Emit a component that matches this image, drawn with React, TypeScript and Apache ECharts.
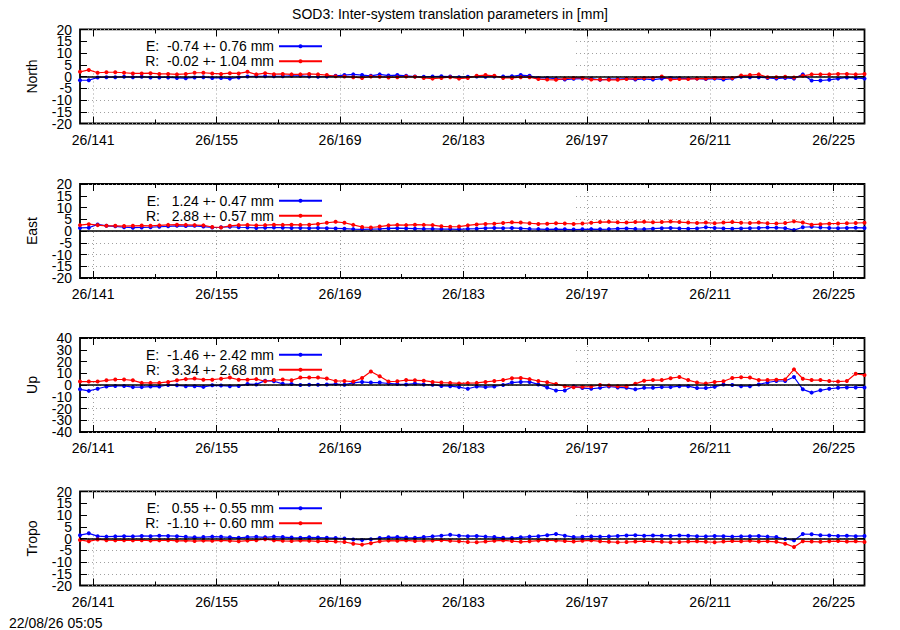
import React, { useEffect, useRef } from "react";
import * as echarts from "echarts";

const FIRST_DAY = 139.5;
const LAST_DAY = 228.5;
const MAJOR_DAYS = [141, 155, 169, 183, 197, 211, 225];
const MINOR_DAYS = [148, 162, 176, 190, 204, 218];
const YEAR_PREFIX = "26/";

const TITLE = "SOD3: Inter-system translation parameters in [mm]";
const STAMP = "22/08/26 05:05";

const PANEL_NAMES = ["North", "East", "Up", "Tropo"];
const PANEL_LIMITS = [20, 20, 40, 20];
const PANEL_STEPS = [5, 5, 10, 5];
// y tick labels, split in two alternating sets so neighbouring labels may touch
const Y_LABELS_A = [
  [-20, -10, 0, 10, 20],
  [-20, -10, 0, 10, 20],
  [-40, -20, 0, 20, 40],
  [-20, -10, 0, 10, 20],
];
const Y_LABELS_B = [
  [-15, -5, 5, 15],
  [-15, -5, 5, 15],
  [-30, -10, 10, 30],
  [-15, -5, 5, 15],
];
const E_LABELS = [
  "E:  -0.74 +- 0.76 mm",
  "E:   1.24 +- 0.47 mm",
  "E:  -1.46 +- 2.42 mm",
  "E:   0.55 +- 0.55 mm",
];
const R_LABELS = [
  "R:  -0.02 +- 1.04 mm",
  "R:   2.88 +- 0.57 mm",
  "R:   3.34 +- 2.68 mm",
  "R:  -1.10 +- 0.60 mm",
];

const NORTH_E = [
  -1.6, -1.6, -0.4, -0.3, -0.3, -0.1, -0.3, -0.1, -0.4, -0.4,
  -0.4, -0.6, -0.7, -0.4, -0.3, -0.6, -0.6, -0.9, -0.4, 0.0,
  0.1, 0.1, 0.1, 0.1, 0.3, 0.3, 0.0, -0.1, 0.0, 0.3,
  0.6, 0.9, 0.6, 0.3, 0.9, 0.4, 0.6, 0.3, 0.0, -0.1,
  0.0, 0.1, 0.0, -0.3, -0.1, 0.0, -0.1, 0.0, 0.0, 0.1,
  0.6, 0.3, -0.6, -0.6, -0.9, -1.3, -1.0, -0.9, -0.9, -1.4,
  -1.1, -1.1, -0.9, -1.3, -1.0, -1.3, -0.9, -0.6, -0.7, -0.9,
  -0.9, -1.1, -0.9, -1.3, -0.9, -0.1, -0.3, -0.3, -0.6, -0.9,
  -0.6, -0.9, 0.9, -1.7, -1.7, -1.4, -0.9, -0.4, -0.6, -0.9,
];
const NORTH_R = [
  2.0, 2.8, 1.6, 1.8, 1.8, 1.6, 1.3, 1.3, 1.4, 1.1,
  1.1, 0.9, 1.1, 1.6, 1.6, 1.3, 1.1, 1.4, 1.3, 2.0,
  0.9, 1.4, 1.0, 1.1, 0.9, 0.9, 1.1, 0.9, 0.6, 0.1,
  0.0, -0.3, -0.6, 0.0, -0.1, -0.4, -0.3, 0.0, -0.1, -0.6,
  -0.9, -0.6, -0.3, -0.9, -0.6, 0.3, 0.6, 0.3, -0.6, -0.6,
  -0.3, -0.3, -1.1, -1.3, -1.4, -0.9, -0.6, -0.6, -1.3, -1.3,
  -1.4, -1.4, -1.1, -0.9, -0.6, -0.6, 0.0, -1.3, -1.1, -1.1,
  -0.9, -0.9, -0.6, -0.6, -0.6, 0.4, 0.6, 0.9, -0.3, -0.3,
  -0.1, -0.4, 0.3, 0.9, 0.9, 0.9, 1.1, 1.1, 0.9, 1.1,
];
const EAST_E = [
  1.3, 1.4, 2.8, 2.2, 2.0, 1.6, 1.4, 1.5, 1.6, 1.8,
  2.0, 2.2, 2.1, 2.2, 1.9, 1.5, 1.6, 1.8, 1.6, 1.5,
  1.3, 1.4, 1.5, 1.4, 1.3, 1.3, 1.2, 1.3, 1.2, 1.1,
  1.0, 0.8, 0.7, 0.8, 0.9, 1.1, 1.2, 1.1, 1.0, 0.9,
  0.9, 0.8, 0.8, 0.7, 0.9, 1.0, 1.2, 1.3, 1.2, 1.3,
  1.1, 0.9, 0.8, 0.7, 0.8, 0.7, 0.6, 0.7, 0.8, 0.7,
  0.8, 1.0, 1.1, 0.9, 0.8, 1.0, 1.2, 1.3, 1.1, 1.0,
  1.1, 1.6, 1.3, 1.1, 1.0, 1.1, 1.2, 1.3, 1.5, 1.4,
  1.2, 0.4, 1.6, 1.8, 1.5, 1.3, 1.2, 1.3, 1.4, 1.3,
];
const EAST_R = [
  2.5, 2.9, 2.5, 2.2, 2.2, 2.1, 2.2, 2.3, 2.2, 2.4,
  2.6, 2.7, 2.6, 2.5, 2.4, 1.7, 1.5, 2.2, 2.5, 2.6,
  2.4, 2.5, 2.7, 2.6, 2.7, 2.6, 2.7, 3.0, 3.5, 3.9,
  3.5, 2.6, 1.7, 1.5, 1.9, 2.4, 2.6, 2.5, 2.7, 2.6,
  2.5, 2.0, 1.8, 1.9, 2.4, 2.8, 3.0, 3.1, 3.4, 3.7,
  3.6, 3.3, 3.0, 3.1, 3.3, 3.2, 3.0, 3.2, 3.5, 3.8,
  3.9, 3.7, 3.6, 3.8, 3.9, 3.7, 3.8, 4.0, 3.8, 3.6,
  3.4, 3.6, 3.3, 3.6, 3.8, 3.5, 3.4, 3.6, 3.3, 3.2,
  3.4, 4.1, 3.6, 2.7, 2.9, 3.1, 3.2, 3.3, 3.4, 3.5,
];
const UP_E = [
  -3.7, -5.0, -3.2, -1.3, -0.8, -0.8, -1.8, -1.8, -1.3, -1.3,
  0.0, -0.3, -1.0, -1.0, -1.6, -0.3, -0.5, -1.0, -0.8, 0.8,
  0.5, 3.7, 3.2, 1.0, 0.8, 0.0, 0.3, 0.3, 0.5, 0.8,
  0.3, 1.8, 2.6, 2.1, 2.1, 1.3, 0.8, 0.5, 1.3, 0.5,
  0.3, -0.8, -1.0, -1.8, -3.2, -1.3, -1.8, -1.3, 0.0, 2.1,
  2.6, 2.6, 0.5, -2.1, -4.7, -4.7, -1.0, -2.6, -3.2, -2.4,
  -1.3, -2.1, -2.4, -3.7, -2.4, -2.4, -1.8, -1.8, -1.0, -1.0,
  -2.6, -2.6, -1.6, 0.5, 0.0, -1.0, -1.0, 0.5, 2.1, 3.4,
  3.4, 6.8, -3.7, -6.5, -4.5, -3.2, -2.4, -2.1, -2.1, -2.1,
];
const UP_R = [
  2.9, 2.9, 2.9, 4.0, 4.7, 4.7, 4.0, 1.8, 1.8, 1.8,
  2.6, 4.0, 5.0, 5.5, 4.5, 4.5, 5.3, 6.3, 4.5, 4.5,
  5.0, 3.2, 4.2, 4.7, 4.0, 6.3, 6.3, 6.3, 5.5, 3.4,
  3.4, 2.9, 6.0, 11.5, 7.4, 2.9, 3.2, 4.2, 4.0, 3.7,
  2.6, 2.1, 1.8, 1.3, 1.6, 1.8, 2.6, 3.4, 4.2, 5.8,
  6.0, 5.0, 3.4, 2.4, 0.8, -1.0, -2.0, -1.6, -1.3, 0.0,
  -0.5, -1.0, -1.0, 1.0, 3.7, 4.2, 4.2, 5.8, 6.8, 4.2,
  2.1, 1.3, 2.6, 3.2, 6.0, 6.6, 6.3, 4.2, 4.2, 4.5,
  4.7, 13.3, 5.3, 4.2, 4.2, 3.4, 2.9, 3.4, 9.5, 8.5,
];
const TROPO_E = [
  1.4, 2.2, 1.0, 0.8, 0.9, 1.0, 0.9, 1.1, 1.0, 1.2,
  1.1, 1.0, 0.7, 0.5, 0.6, 0.8, 0.7, 0.5, 0.3, 0.6,
  0.7, 0.5, 0.8, 0.6, 0.4, 0.3, 0.5, 0.4, 0.3, 0.2,
  0.0, -0.4, -0.6, -0.3, 0.2, 0.5, 0.6, 0.4, 0.3, 0.6,
  0.9, 1.2, 1.6, 1.2, 1.0, 1.1, 0.8, 0.6, 0.3, 0.2,
  0.5, 0.8, 1.0, 1.4, 1.9, 1.2, 0.6, 0.7, 0.9, 0.8,
  0.9, 1.1, 1.3, 1.4, 1.2, 1.3, 1.2, 1.1, 1.3, 1.2,
  1.0, 0.9, 1.1, 1.0, 0.8, 0.9, 1.0, 1.1, 0.8, 0.6,
  -0.2, -0.8, 1.9, 1.8, 1.4, 1.3, 1.1, 1.2, 1.0, 1.1,
];
const TROPO_R = [
  -0.6, -1.2, -0.4, -0.7, -0.8, -0.7, -0.8, -0.7, -0.9, -0.8,
  -0.7, -1.0, -0.9, -1.1, -0.9, -1.0, -0.8, -1.0, -1.2, -0.9,
  -0.7, -0.3, -0.8, -1.0, -1.1, -0.9, -1.0, -1.2, -1.1, -1.3,
  -1.5, -2.2, -2.6, -2.0, -1.2, -0.9, -1.0, -0.8, -1.1, -1.0,
  -0.9, -0.7, -1.0, -1.2, -1.5, -1.6, -1.3, -1.0, -0.8, -1.1,
  -1.4, -1.2, -0.9, -0.7, -0.9, -1.1, -1.3, -1.0, -0.8, -1.2,
  -1.4, -1.6, -1.5, -1.3, -1.1, -1.2, -1.4, -1.6, -1.5, -1.3,
  -1.2, -1.4, -1.6, -1.3, -1.1, -1.2, -1.0, -1.3, -1.2, -1.4,
  -2.2, -3.6, -1.2, -1.3, -1.4, -1.2, -1.1, -1.3, -1.2, -1.5,
];

const E_SERIES = [NORTH_E, EAST_E, UP_E, TROPO_E];
const R_SERIES = [NORTH_R, EAST_R, UP_R, TROPO_R];

// layout (pixels)
const PANEL_TOPS = [29.5, 184, 338, 491.5];
const PANEL_H = 94;
const PLOT_LEFT = 80;
const PLOT_W = 784.5;
const FONT = '"Liberation Sans", Arial, Helvetica, sans-serif';
const BLUE = "#0000ff";
const RED = "#ff0000";

const fixSpaces = (s: string) => s.replace(/  /g, " \u00a0");

function buildOption() {
  const grid: any[] = [];
  const xAxis: any[] = [];
  const yAxis: any[] = [];
  const series: any[] = [];
  const legend: any[] = [];
  const graphic: any[] = [];

  PANEL_NAMES.forEach((name, k) => {
    const top = PANEL_TOPS[k];
    grid.push({
      left: PLOT_LEFT,
      top,
      width: PLOT_W,
      height: PANEL_H,
      show: true,
      borderColor: "#000",
      borderWidth: 1.8,
      backgroundColor: "transparent",
      outerBoundsMode: "none",
      containLabel: false,
    });
    const xBase = {
      type: "value",
      gridIndex: k,
      min: FIRST_DAY,
      max: LAST_DAY,
      axisLine: { show: false, onZero: false },
      splitLine: { show: false },
      axisLabel: { show: false },
    };
    const tick = (vals: number[], len: number) => ({
      show: true,
      inside: true,
      length: len,
      customValues: vals,
      lineStyle: { color: "#000", width: 1 },
    });
    // bottom: labels, major ticks, vertical grid
    xAxis.push({
      ...xBase,
      position: "bottom",
      z: 0,
      axisTick: tick(MAJOR_DAYS, 7),
      axisLabel: {
        show: true,
        customValues: MAJOR_DAYS,
        formatter: (v: number) => YEAR_PREFIX + Math.round(v),
        color: "#000",
        fontSize: 14,
        fontFamily: FONT,
        margin: 9,
      },
      splitLine: {
        show: true,
        lineStyle: { color: "#a0a0a0", width: 1, type: [1, 3] },
      },
    });
    xAxis.push({ ...xBase, position: "bottom", z: 3, axisTick: tick(MINOR_DAYS, 4) });
    xAxis.push({ ...xBase, position: "top", z: 3, axisTick: tick(MAJOR_DAYS, 7) });
    xAxis.push({ ...xBase, position: "top", z: 3, axisTick: tick(MINOR_DAYS, 4) });

    const lim = PANEL_LIMITS[k];
    const yBase = {
      type: "value",
      gridIndex: k,
      min: -lim,
      max: lim,
      interval: PANEL_STEPS[k],
      axisLine: { show: false, onZero: false },
      splitLine: { show: false },
      axisLabel: { show: false },
      axisTick: { show: false },
    };
    const yLabel = (vals: number[]) => ({
      show: true,
      customValues: vals,
      showMinLabel: true,
      showMaxLabel: true,
      hideOverlap: false,
      color: "#000",
      fontSize: 14,
      lineHeight: 12,
      fontFamily: FONT,
      margin: 8,
    });
    // grid lines
    yAxis.push({
      ...yBase,
      position: "left",
      z: 0,
      splitLine: {
        show: true,
        lineStyle: { color: "#a0a0a0", width: 1, type: [1, 3] },
      },
    });
    // ticks, first label set and the name
    yAxis.push({
      ...yBase,
      position: "left",
      z: 3,
      name,
      nameLocation: "middle",
      nameRotate: 90,
      nameGap: 41,
      nameTextStyle: { color: "#000", fontSize: 14, fontFamily: FONT },
      axisTick: {
        show: true,
        inside: true,
        length: 7,
        lineStyle: { color: "#000", width: 1 },
      },
      axisLabel: yLabel(Y_LABELS_A[k]),
    });
    // second label set
    yAxis.push({
      ...yBase,
      position: "left",
      z: 3,
      axisLabel: yLabel(Y_LABELS_B[k]),
    });
    // right mirror ticks
    yAxis.push({
      ...yBase,
      position: "right",
      z: 3,
      axisTick: {
        show: true,
        inside: true,
        length: 7,
        lineStyle: { color: "#000", width: 1 },
      },
    });

    const eName = fixSpaces(E_LABELS[k]);
    const rName = fixSpaces(R_LABELS[k]);
    const mk = (nm: string, vals: number[], color: string, withZero: boolean) => ({
      type: "line",
      name: nm,
      xAxisIndex: 4 * k,
      yAxisIndex: 4 * k,
      data: vals.map((v, i) => [FIRST_DAY + i, v]),
      symbol: "circle",
      symbolSize: 4,
      showSymbol: true,
      clip: false,
      z: 2,
      silent: true,
      lineStyle: { color, width: 1.2 },
      itemStyle: { color },
      emphasis: { disabled: true },
      markLine: withZero
        ? {
            silent: true,
            symbol: "none",
            label: { show: false },
            lineStyle: { color: "#000", type: "solid", width: 1.6 },
            data: [{ yAxis: 0 }],
          }
        : undefined,
    });
    series.push(mk(eName, E_SERIES[k], BLUE, true));
    series.push(mk(rName, R_SERIES[k], RED, false));

    legend.push({
      data: [eName, rName],
      orient: "vertical",
      align: "right",
      right: 900 - 323,
      top: top + 9.2,
      padding: 0,
      itemWidth: 43,
      itemHeight: 5,
      itemGap: 0,
      selectedMode: false,
      textStyle: { color: "#000", fontSize: 14, fontFamily: FONT, lineHeight: 15 },
    });

    graphic.push({
      type: "rect",
      silent: true,
      z: 1,
      shape: { x: PLOT_LEFT + 1, y: top + 1, width: 492, height: 40 },
      style: { fill: "#ffffff" },
    });
  });

  graphic.push({
    type: "text",
    z: 5,
    silent: true,
    x: 450,
    y: 14,
    style: {
      text: TITLE,
      fill: "#000",
      font: `14px ${FONT}`,
      align: "center",
      verticalAlign: "middle",
    },
  });
  graphic.push({
    type: "text",
    z: 5,
    silent: true,
    x: 9,
    y: 623,
    style: {
      text: STAMP,
      fill: "#000",
      font: `14px ${FONT}`,
      align: "left",
      verticalAlign: "middle",
    },
  });

  return {
    animation: false,
    backgroundColor: "#ffffff",
    textStyle: { fontFamily: FONT, fontSize: 14, color: "#000" },
    grid,
    xAxis,
    yAxis,
    series,
    legend,
    graphic,
  };
}

export default function App() {
  const ref = useRef<HTMLDivElement>(null);
  useEffect(() => {
    if (!ref.current) return;
    const chart = echarts.init(ref.current, null, { renderer: "svg" });
    chart.setOption(buildOption() as any);
    return () => chart.dispose();
  }, []);
  return (
    <div
      ref={ref}
      style={{ position: "absolute", left: 0, top: 0, width: 900, height: 630 }}
    />
  );
}
